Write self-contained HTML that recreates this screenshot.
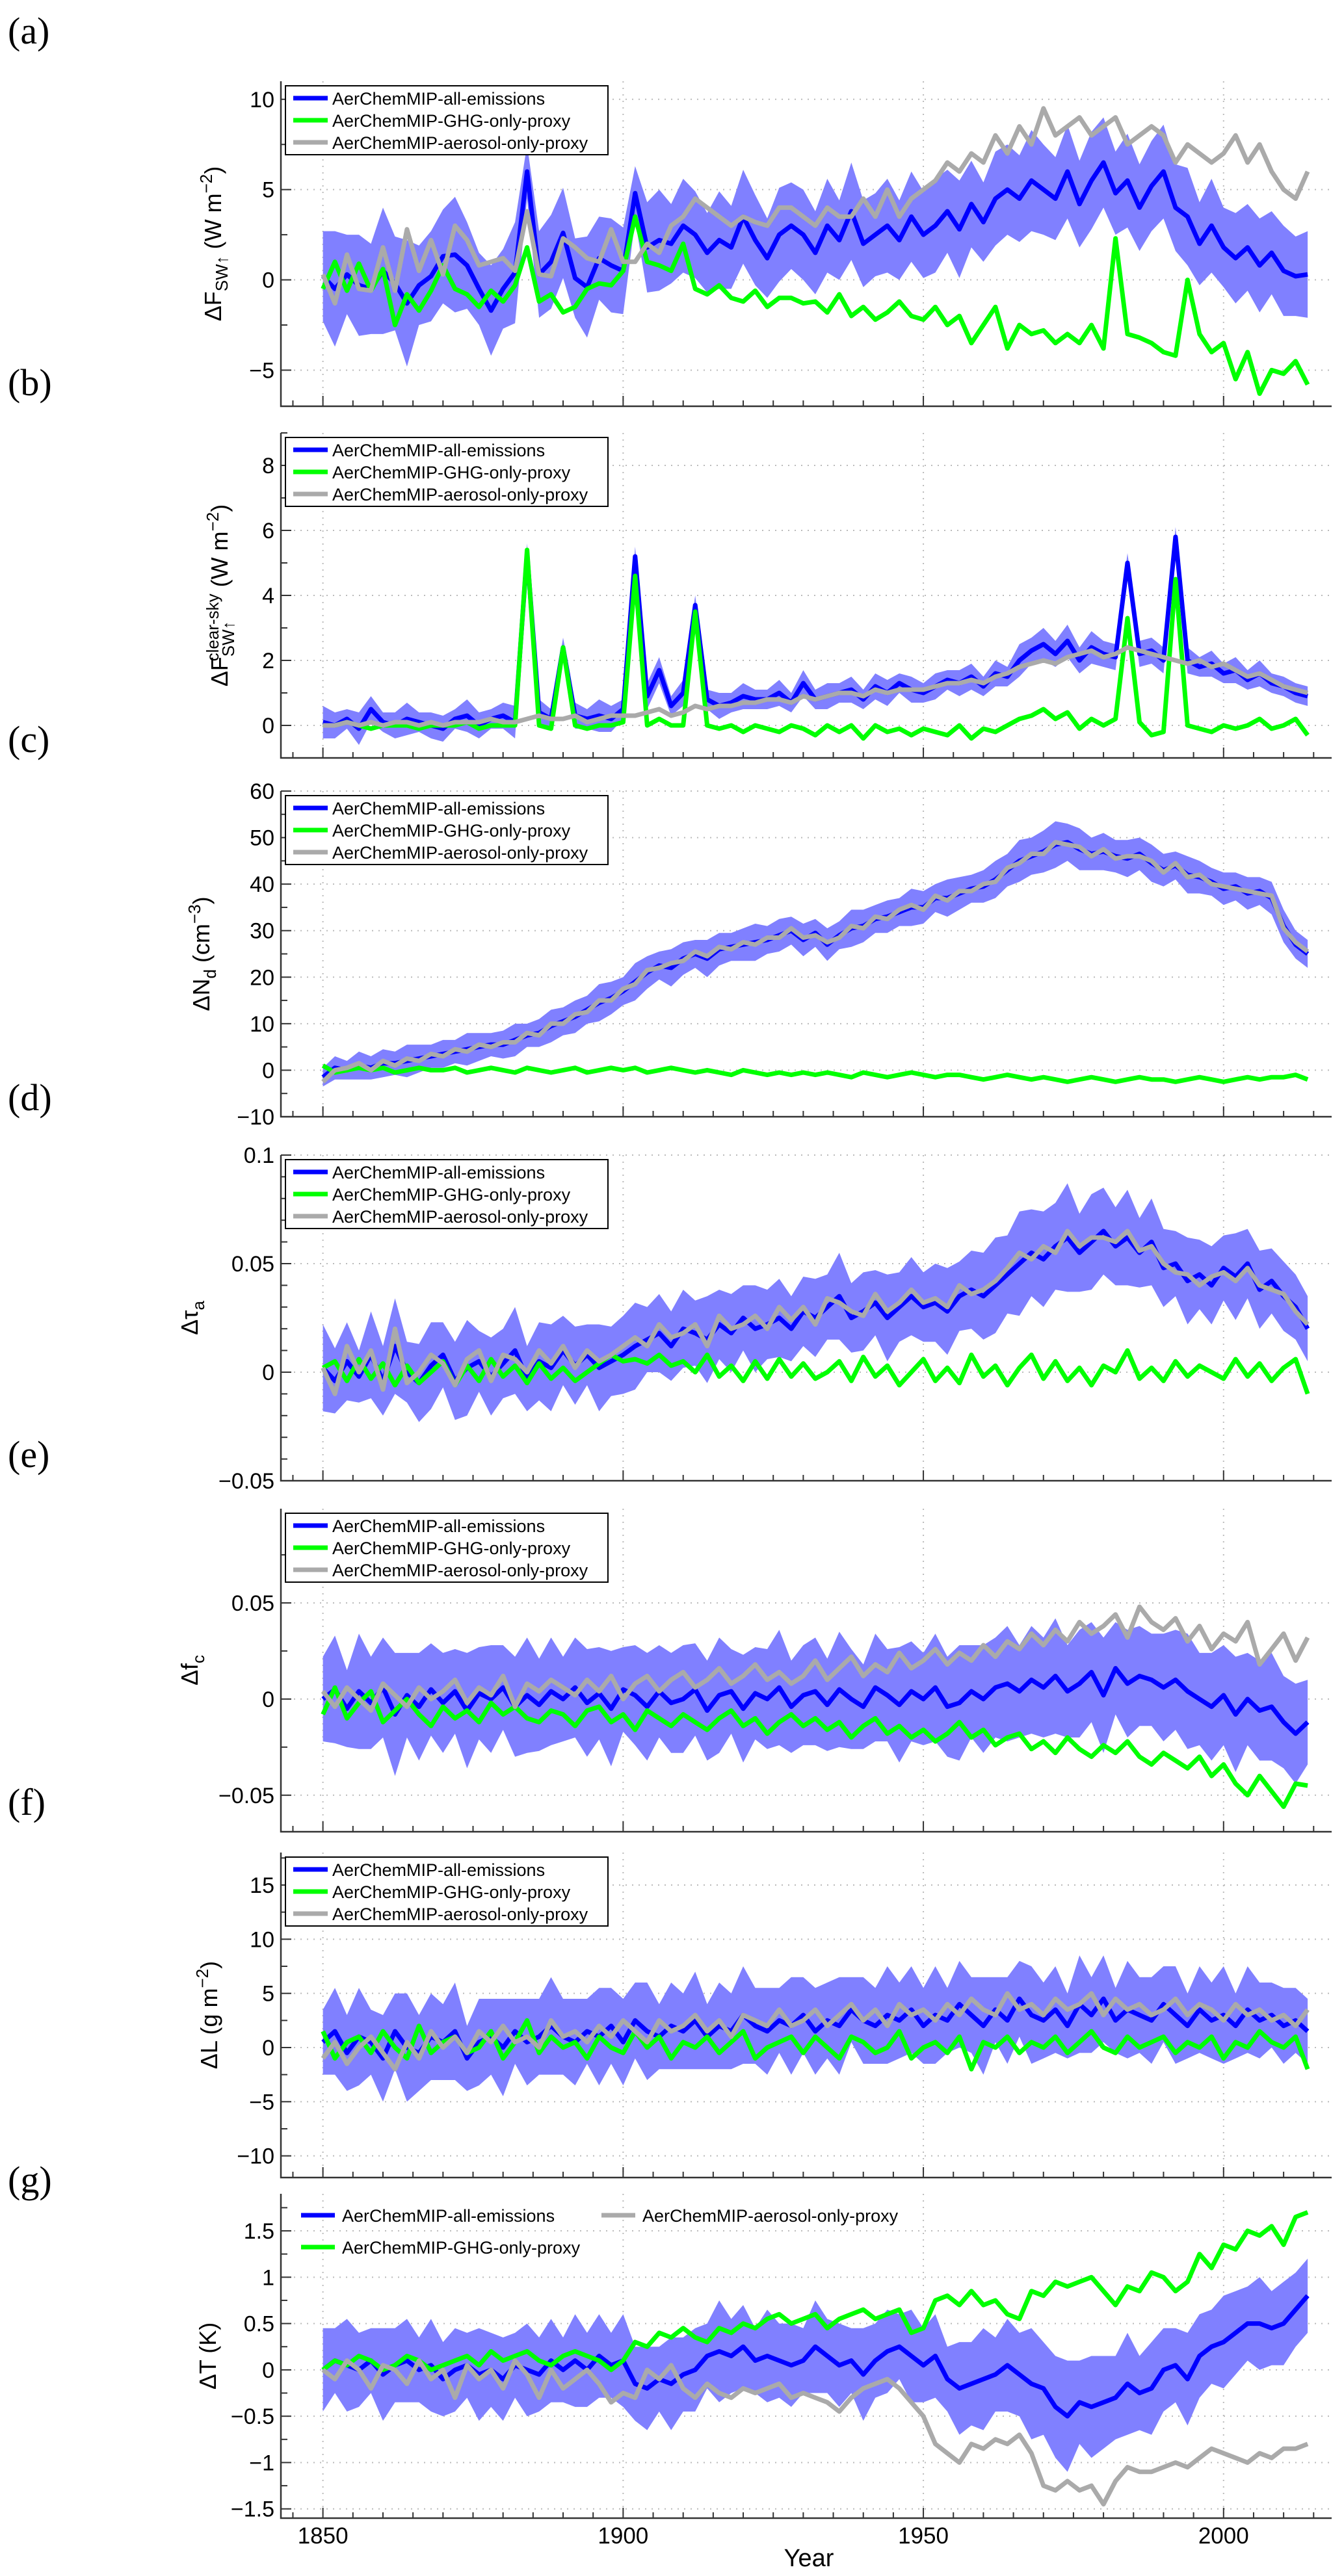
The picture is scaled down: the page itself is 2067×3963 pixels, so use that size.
<!DOCTYPE html>
<html><head><meta charset="utf-8"><style>
html,body{margin:0;padding:0;background:#fff;}
svg{display:block;}
text{font-family:"Liberation Sans",sans-serif;}
</style></head><body>
<svg id="fig" width="2067" height="3963" viewBox="0 0 2067 3963" xmlns="http://www.w3.org/2000/svg"></svg>
<script>
// ---------- DATA (years 1850..2014, every 2 years) ----------
const yearStart = 1850, yearStep = 2;
// (a) dF_SW up
const meanA=[0.2,-0.5,0.3,-0.3,-0.5,0.5,-0.2,-1.3,-0.3,0.2, 1.3,1.4,0.8,-0.5,-1.7,-0.5,0.4,6.0,0.3,1.0, 2.6,0.1,-0.4,1.2,0.8,0.5,4.8,1.8,2.2,2.0, 3.0,2.5,1.5,2.2,1.8,3.5,2.2,1.2,2.5,3.0, 2.5,1.5,3.0,2.2,3.8,2.0,2.5,3.0,2.2,3.5, 2.5,3.0,3.8,2.8,4.2,3.2,4.5,5.0,4.5,5.5, 5.0,4.5,6.0,4.2,5.5,6.5,4.8,5.5,4.0,5.2, 6.0,4.0,3.5,2.0,3.0,1.8,1.2,1.8,0.8,1.5, 0.5,0.2,0.3];
const spreadA=[2.5,3.2,2.2,2.8,2.5,3.5,2.6,3.5,2.2,2.5, 2.6,3.2,2.4,2.0,2.5,2.2,2.8,1.5,2.4,2.6, 2.5,2.2,2.8,2.3,2.6,2.4,1.5,2.5,2.8,2.2, 2.6,2.4,2.2,2.7,2.3,2.6,2.5,2.2,2.6,2.4, 2.5,2.3,2.6,2.2,2.7,2.4,2.3,2.6,2.2,2.5, 2.4,2.6,2.3,2.7,2.4,2.2,2.6,2.5,2.4,2.8, 2.5,2.3,2.6,2.4,2.7,2.5,2.3,2.6,2.4,2.5, 2.6,2.4,2.7,2.3,2.6,2.2,2.5,2.4,2.6,2.3, 2.5,2.2,2.4];
const ghgA=[-0.5,1.0,-0.6,0.9,-0.6,0.6,-2.5,-0.8,-1.7,-0.6, 0.8,-0.5,-0.8,-1.5,-0.6,-1.2,-0.3,1.8,-1.2,-0.8, -1.8,-1.5,-0.5,-0.2,-0.3,0.5,3.5,1.0,0.8,0.5, 2.0,-0.5,-0.8,-0.3,-1.0,-1.2,-0.6,-1.5,-1.0,-1.0, -1.3,-1.2,-1.8,-0.8,-2.0,-1.5,-2.2,-1.8,-1.2,-2.0, -2.2,-1.5,-2.5,-2.0,-3.5,-2.5,-1.5,-3.8,-2.5,-3.0, -2.8,-3.5,-3.0,-3.5,-2.5,-3.8,2.3,-3.0,-3.2,-3.5, -4.0,-4.2,0.0,-3.0,-4.0,-3.5,-5.5,-4.0,-6.3,-5.0, -5.2,-4.5,-5.8];
const aerA=[0.3,-1.3,1.4,-0.5,-0.6,1.8,-0.6,2.8,0.5,2.2, 0.3,3.0,2.2,0.8,1.0,1.2,0.5,3.8,0.3,0.2, 2.3,1.8,1.2,1.0,2.8,1.0,1.0,2.0,1.5,3.0, 3.5,4.5,4.0,3.5,3.0,3.5,3.2,3.0,4.0,4.0, 3.5,3.0,4.0,3.5,3.5,4.5,3.5,5.0,3.5,4.5, 5.0,5.5,6.5,6.0,7.0,6.5,8.0,7.0,8.5,7.5, 9.5,8.0,8.5,9.0,8.0,8.5,9.0,7.5,8.0,8.5, 8.0,6.5,7.5,7.0,6.5,7.0,8.0,6.5,7.5,6.0, 5.0,4.5,6.0];
// (b) clear-sky dF_SW up
const meanB=[0.1,0.0,0.2,-0.1,0.5,0.1,0.0,0.2,0.1,0.0, -0.1,0.2,0.3,0.0,0.2,0.3,0.1,5.3,0.4,0.2, 2.4,0.3,0.2,0.3,0.2,0.5,5.2,0.9,1.7,0.6, 1.0,3.7,0.8,0.6,0.7,0.9,0.8,0.8,1.0,0.7, 1.3,0.8,0.9,1.0,1.1,0.8,1.2,1.0,1.3,1.1, 1.0,1.2,1.4,1.3,1.5,1.2,1.6,1.5,2.0,2.3, 2.5,2.2,2.6,2.0,2.4,2.2,2.1,5.0,2.2,2.3, 2.0,5.8,2.0,1.8,1.9,1.6,1.7,1.4,1.6,1.3, 1.2,1.0,0.9];
const spreadB=[0.5,0.4,0.3,0.5,0.4,0.3,0.4,0.5,0.3,0.4, 0.4,0.3,0.5,0.4,0.3,0.4,0.5,0.3,0.4,0.3, 0.3,0.4,0.3,0.5,0.4,0.3,0.3,0.4,0.4,0.3, 0.4,0.3,0.3,0.4,0.3,0.4,0.3,0.3,0.4,0.3, 0.4,0.3,0.4,0.3,0.4,0.3,0.4,0.4,0.3,0.4, 0.3,0.4,0.3,0.4,0.4,0.3,0.4,0.3,0.5,0.4, 0.5,0.4,0.5,0.4,0.5,0.4,0.4,0.3,0.4,0.4, 0.4,0.3,0.4,0.3,0.4,0.3,0.4,0.3,0.4,0.3, 0.3,0.3,0.3];
const ghgB=[0.0,0.0,0.1,0.0,-0.1,0.0,0.0,0.0,-0.1,0.0, 0.0,0.0,0.1,-0.1,0.0,0.0,0.0,5.4,0.0,-0.1, 2.4,0.0,-0.1,0.0,0.0,0.1,4.6,0.0,0.2,0.0, 0.0,3.5,0.0,-0.1,0.0,-0.2,0.0,-0.1,-0.2,0.0, -0.1,-0.3,0.0,-0.2,0.0,-0.4,0.0,-0.2,-0.1,-0.3, -0.1,-0.2,-0.3,0.0,-0.4,-0.1,-0.2,0.0,0.2,0.3, 0.5,0.2,0.4,-0.1,0.2,0.0,0.2,3.3,0.1,-0.3, -0.2,4.5,0.0,-0.1,-0.2,0.0,-0.1,0.0,0.2,-0.1, 0.0,0.2,-0.3];
const aerB=[0.0,0.0,0.1,0.0,0.1,0.0,0.1,0.1,0.0,0.1, 0.0,0.1,0.1,0.1,0.2,0.1,0.1,0.2,0.3,0.2, 0.2,0.3,0.1,0.2,0.3,0.3,0.3,0.4,0.5,0.3, 0.4,0.6,0.5,0.6,0.6,0.7,0.7,0.8,0.8,0.7, 0.9,0.8,0.9,1.0,1.0,0.9,1.1,1.0,1.1,1.1, 1.1,1.2,1.3,1.3,1.4,1.3,1.5,1.6,1.8,1.9, 2.0,1.9,2.1,2.2,2.3,2.1,2.2,2.4,2.3,2.2, 2.1,2.0,1.9,2.0,1.8,1.9,1.7,1.5,1.6,1.4, 1.2,1.1,1.0];
// (c) dNd
const meanC=[-1.5,0.5,0.0,1.0,0.5,1.5,1.5,2.0,2.5,3.0, 3.5,4.0,4.5,5.0,5.5,5.5,6.5,7.5,8.0,9.5, 10.5,11.5,13.0,14.5,15.5,17.0,19.0,21.0,22.5,22.0, 24.0,25.0,24.0,26.0,26.5,27.0,27.5,28.0,29.0,30.0, 28.0,29.5,27.0,29.0,30.5,31.0,32.5,33.0,34.0,35.0, 35.0,37.0,37.0,38.0,39.0,39.5,41.0,43.0,45.0,46.0, 47.0,48.5,49.0,47.5,46.5,47.0,46.0,45.5,46.5,44.5, 43.0,44.0,42.0,41.5,40.5,39.0,39.5,38.0,38.5,37.0, 31.0,27.0,25.0];
const spreadC=[2.0,2.5,2.0,3.0,2.5,3.0,2.5,3.5,3.0,2.5, 3.0,2.5,3.5,3.0,2.5,3.0,3.5,2.5,3.0,3.5, 3.0,3.5,3.0,4.0,3.5,3.0,4.0,3.5,3.0,4.0, 3.5,3.0,4.0,3.5,3.0,3.5,4.0,3.0,3.5,3.0, 3.5,3.0,3.5,3.0,4.0,3.5,3.0,3.5,3.0,4.0, 3.5,3.0,4.0,3.5,3.0,3.5,4.0,3.5,4.5,4.0, 4.5,5.0,4.0,4.5,3.5,4.0,3.5,4.0,3.5,4.0, 3.5,3.0,4.0,3.5,3.0,3.5,3.0,3.5,3.0,3.5, 3.5,3.0,3.0];
const ghgC=[1.0,-0.5,0.0,0.5,0.0,0.5,-0.5,0.0,0.5,0.0, 0.0,0.5,-0.5,0.0,0.5,0.0,-0.5,0.5,0.0,-0.5, 0.0,0.5,-0.5,0.0,0.5,0.0,0.5,-0.5,0.0,0.5, 0.0,-0.5,0.0,-0.5,-1.0,0.0,-0.5,-1.0,-0.5,-1.0, -0.5,-1.0,-0.5,-1.0,-1.5,-0.5,-1.0,-1.5,-1.0,-0.5, -1.0,-1.5,-1.0,-1.0,-1.5,-2.0,-1.5,-1.0,-1.5,-2.0, -1.5,-2.0,-2.5,-2.0,-1.5,-2.0,-2.5,-2.0,-1.5,-2.0, -2.0,-2.5,-2.0,-1.5,-2.0,-2.5,-2.0,-1.5,-2.0,-1.5, -1.5,-1.0,-2.0];
const aerC=[-2.5,0.0,0.5,1.5,0.0,2.0,1.0,2.5,2.0,3.5, 3.0,4.5,4.0,5.5,5.0,6.0,6.0,8.0,7.5,10.0, 10.0,12.0,12.5,15.0,15.0,17.5,18.5,21.5,22.0,23.0, 23.5,25.5,24.5,26.5,26.0,27.5,27.0,28.5,28.5,30.5, 28.5,29.0,27.5,28.5,31.0,30.5,33.0,32.5,34.5,35.5, 34.5,37.5,36.5,38.5,38.5,40.0,40.5,43.5,44.5,46.5, 46.5,49.0,48.5,48.0,46.0,47.5,45.5,46.0,46.0,45.0, 42.5,44.5,41.5,42.0,40.0,39.5,39.0,38.5,38.0,37.5, 30.5,27.5,25.5];
// (d) d tau_a
const meanD=[0.002,-0.004,0.005,-0.002,0.008,-0.004,0.012,0.000,-0.005,0.003, 0.008,-0.004,0.002,0.005,-0.002,0.004,0.010,-0.003,0.005,0.002, 0.010,0.003,0.008,0.002,0.005,0.008,0.012,0.015,0.018,0.012, 0.020,0.018,0.015,0.022,0.018,0.025,0.020,0.022,0.025,0.020, 0.028,0.025,0.030,0.035,0.025,0.028,0.032,0.025,0.030,0.035, 0.030,0.032,0.028,0.035,0.038,0.035,0.040,0.045,0.050,0.055, 0.052,0.058,0.062,0.055,0.060,0.065,0.058,0.062,0.055,0.060, 0.048,0.050,0.042,0.045,0.040,0.048,0.044,0.050,0.038,0.042, 0.035,0.030,0.020];
const spreadD=[0.020,0.015,0.018,0.012,0.020,0.016,0.022,0.014,0.018,0.020, 0.015,0.018,0.022,0.014,0.018,0.016,0.020,0.015,0.018,0.020, 0.016,0.018,0.014,0.020,0.016,0.018,0.020,0.015,0.018,0.016, 0.018,0.015,0.020,0.016,0.018,0.015,0.020,0.016,0.018,0.015, 0.016,0.018,0.015,0.020,0.016,0.018,0.015,0.020,0.016,0.018, 0.016,0.018,0.020,0.016,0.018,0.020,0.022,0.018,0.024,0.020, 0.022,0.020,0.025,0.018,0.022,0.020,0.018,0.022,0.016,0.020, 0.018,0.015,0.020,0.016,0.018,0.015,0.020,0.016,0.018,0.015, 0.016,0.015,0.015];
const ghgD=[0.002,0.005,-0.004,0.006,-0.003,0.004,-0.006,0.003,-0.005,0.000, 0.005,-0.006,0.003,-0.004,0.006,-0.002,0.003,-0.005,0.004,-0.003, 0.002,-0.004,0.000,0.004,0.008,0.005,0.006,0.004,0.008,0.003, 0.005,0.000,0.008,-0.002,0.003,-0.004,0.005,-0.003,0.006,-0.002, 0.004,-0.003,0.000,0.005,-0.004,0.007,-0.002,0.003,-0.006,0.000, 0.006,-0.004,0.002,-0.005,0.008,-0.002,0.003,-0.006,0.002,0.008, -0.003,0.005,-0.004,0.002,-0.006,0.003,0.000,0.010,-0.003,0.002, -0.004,0.005,-0.002,0.003,0.000,-0.003,0.006,-0.002,0.004,-0.004, 0.002,0.006,-0.010];
const aerD=[0.002,-0.010,0.012,0.000,0.010,-0.008,0.020,-0.005,0.000,0.008, 0.004,-0.006,0.006,0.010,-0.004,0.008,0.006,0.000,0.010,0.004, 0.012,0.002,0.010,0.005,0.008,0.012,0.016,0.012,0.022,0.016, 0.018,0.022,0.012,0.026,0.020,0.022,0.026,0.020,0.030,0.024, 0.030,0.022,0.034,0.032,0.028,0.026,0.036,0.028,0.032,0.038, 0.032,0.034,0.030,0.040,0.036,0.038,0.042,0.048,0.055,0.052, 0.058,0.055,0.065,0.058,0.062,0.062,0.060,0.065,0.056,0.058, 0.050,0.046,0.045,0.040,0.044,0.046,0.042,0.048,0.040,0.038, 0.036,0.028,0.022];
// (e) d f_c
const meanE=[0.000,0.005,-0.005,0.004,-0.002,0.006,-0.008,0.002,-0.004,0.005, -0.002,0.004,-0.006,0.003,0.000,0.006,-0.004,0.002,-0.003,0.004, 0.000,0.006,-0.002,0.003,-0.005,0.005,0.002,-0.004,0.004,-0.002, 0.000,0.005,-0.006,0.002,0.004,-0.005,0.003,0.000,0.006,-0.004, 0.002,0.004,-0.003,0.005,0.000,-0.004,0.006,0.002,-0.003,0.004, 0.000,0.006,-0.004,-0.002,0.004,0.000,0.006,0.008,0.004,0.010, 0.006,0.012,0.004,0.008,0.014,0.002,0.016,0.008,0.012,0.010, 0.006,0.010,0.004,0.000,-0.004,0.002,-0.008,0.000,-0.006,-0.004, -0.012,-0.018,-0.012];
const spreadE=[0.022,0.028,0.020,0.030,0.024,0.026,0.032,0.022,0.028,0.024, 0.026,0.022,0.030,0.024,0.028,0.022,0.026,0.030,0.024,0.028, 0.022,0.026,0.028,0.024,0.030,0.022,0.026,0.028,0.024,0.026, 0.028,0.024,0.026,0.030,0.022,0.028,0.024,0.026,0.030,0.024, 0.026,0.028,0.024,0.030,0.026,0.022,0.028,0.024,0.030,0.026, 0.024,0.028,0.026,0.030,0.024,0.028,0.026,0.030,0.024,0.028, 0.026,0.030,0.024,0.028,0.026,0.030,0.024,0.028,0.026,0.024, 0.028,0.026,0.030,0.024,0.028,0.026,0.030,0.024,0.026,0.028, 0.024,0.026,0.022];
const ghgE=[-0.008,0.006,-0.010,-0.002,0.004,-0.012,-0.006,0.000,-0.008,-0.014, -0.004,-0.010,-0.006,-0.012,-0.002,-0.008,-0.004,-0.010,-0.012,-0.006, -0.008,-0.014,-0.006,-0.004,-0.012,-0.008,-0.016,-0.006,-0.010,-0.014, -0.008,-0.012,-0.016,-0.010,-0.006,-0.014,-0.010,-0.018,-0.012,-0.008, -0.014,-0.010,-0.016,-0.012,-0.020,-0.014,-0.010,-0.018,-0.014,-0.020, -0.016,-0.022,-0.018,-0.012,-0.020,-0.016,-0.024,-0.020,-0.018,-0.026, -0.022,-0.028,-0.020,-0.026,-0.030,-0.024,-0.028,-0.022,-0.030,-0.034, -0.028,-0.032,-0.036,-0.030,-0.040,-0.034,-0.044,-0.050,-0.040,-0.048, -0.056,-0.044,-0.045];
const aerE=[0.004,-0.004,0.006,0.000,-0.006,0.008,0.002,-0.004,0.006,0.000, 0.004,0.010,-0.002,0.006,0.002,0.012,-0.004,0.008,0.004,0.010, 0.006,0.002,0.010,0.004,0.012,0.000,0.008,0.012,0.004,0.010, 0.014,0.006,0.010,0.016,0.008,0.012,0.018,0.010,0.014,0.008, 0.012,0.020,0.010,0.016,0.022,0.012,0.018,0.014,0.024,0.016, 0.020,0.026,0.018,0.024,0.020,0.028,0.022,0.030,0.026,0.034, 0.028,0.036,0.030,0.040,0.034,0.038,0.044,0.032,0.048,0.040, 0.036,0.042,0.030,0.038,0.026,0.034,0.030,0.040,0.018,0.026, 0.034,0.020,0.032];
// (f) dL
const meanF=[0.5,1.5,-0.5,1.0,0.5,-1.0,1.5,0.0,-0.5,1.0, 0.5,1.5,-1.0,0.5,1.0,0.0,1.5,0.5,1.0,2.0, 1.0,0.5,1.5,1.0,2.0,0.5,2.5,1.5,1.0,2.0, 1.5,2.5,1.0,2.0,1.5,3.0,2.0,1.5,2.5,2.0, 3.0,1.5,2.5,2.0,3.5,2.5,2.0,3.0,2.5,3.5, 2.0,3.0,2.5,4.0,3.0,2.0,3.5,2.5,4.5,3.0, 2.5,3.5,2.0,4.0,3.0,4.5,2.5,3.5,3.0,2.5, 4.0,3.0,2.0,3.5,2.5,3.0,2.0,3.5,2.5,3.0, 2.0,2.5,1.5];
const spreadF=[3.0,4.0,3.5,4.5,3.0,4.0,3.5,5.0,3.5,4.0, 3.5,4.5,3.0,4.0,3.5,4.5,3.0,4.0,3.5,4.5, 3.5,4.0,3.0,4.5,3.5,4.0,3.5,4.5,3.0,4.0, 3.5,4.5,3.0,4.0,3.5,4.5,3.5,4.0,3.0,4.5, 3.5,4.0,3.5,4.5,3.0,4.0,3.5,4.5,3.5,4.0, 3.5,4.5,3.0,4.0,3.5,4.5,3.0,4.0,3.5,4.5, 3.5,4.0,3.0,4.5,3.5,4.0,3.0,4.5,3.5,4.0, 3.5,4.5,3.0,4.0,3.5,4.5,3.0,4.0,3.5,3.0, 3.5,3.0,3.0];
const ghgF=[1.5,-1.0,0.5,1.0,-0.5,1.5,0.0,-1.0,2.0,-0.5, 0.5,1.0,-0.5,0.0,1.5,-1.0,0.5,2.5,-0.5,1.0, 0.0,0.5,-1.0,1.0,0.0,-0.5,1.5,0.0,1.0,-1.0, 0.5,0.0,1.0,-0.5,0.5,1.5,-1.0,0.0,0.5,1.0, -0.5,1.0,0.0,-1.0,1.0,0.5,-0.5,0.0,1.5,-1.0, 0.0,0.5,-0.5,1.0,-2.0,0.5,0.0,1.0,-0.5,0.5, 0.0,1.0,-0.5,0.5,1.5,0.0,-0.5,1.0,0.0,0.5, 1.0,-0.5,0.5,0.0,1.0,-1.0,0.5,0.0,1.5,0.5, 0.0,1.0,-2.0];
const aerF=[-1.0,0.5,-1.5,0.0,1.0,-0.5,-2.0,0.5,-1.0,1.5, 0.0,1.0,-0.5,1.5,0.5,2.0,0.5,1.0,0.0,2.5, 1.0,1.5,0.5,2.0,1.0,2.5,1.5,0.5,2.5,1.5, 2.0,3.0,1.5,2.5,1.0,3.0,2.5,2.0,3.5,2.0, 2.5,3.5,2.0,3.0,4.0,2.5,3.5,2.0,4.0,3.0, 3.5,2.5,4.0,3.0,4.5,3.5,3.0,5.0,3.5,4.0, 3.0,4.5,3.5,4.0,5.0,3.0,4.5,3.5,4.0,3.0, 3.5,4.5,3.0,4.0,3.5,2.5,4.0,3.0,3.5,2.5, 3.0,2.0,3.5];
// (g) dT
const meanG=[0.0,0.1,0.05,0.0,0.1,-0.05,0.05,0.1,0.0,0.05, -0.1,0.0,0.05,-0.05,0.0,-0.1,0.05,0.0,-0.05,0.1, 0.0,0.1,0.0,0.15,0.05,0.1,-0.15,-0.2,-0.1,-0.15, -0.05,0.0,0.15,0.2,0.15,0.25,0.1,0.15,0.1,0.05, 0.1,0.25,0.15,0.05,0.1,-0.05,0.1,0.2,0.25,0.15, 0.05,0.15,-0.1,-0.2,-0.15,-0.1,-0.05,0.05,-0.05,-0.15, -0.2,-0.4,-0.5,-0.35,-0.4,-0.35,-0.3,-0.15,-0.25,-0.2, 0.0,0.05,-0.1,0.15,0.25,0.3,0.4,0.5,0.5,0.45, 0.5,0.65,0.8];
const spreadG=[0.45,0.35,0.5,0.4,0.35,0.5,0.4,0.45,0.35,0.5, 0.4,0.45,0.35,0.5,0.4,0.45,0.35,0.5,0.4,0.45, 0.35,0.5,0.4,0.45,0.35,0.5,0.4,0.45,0.35,0.5, 0.4,0.45,0.35,0.55,0.4,0.45,0.35,0.5,0.4,0.45, 0.35,0.5,0.4,0.45,0.35,0.5,0.4,0.45,0.35,0.5, 0.4,0.45,0.35,0.5,0.45,0.55,0.4,0.5,0.45,0.6, 0.5,0.55,0.6,0.45,0.55,0.5,0.45,0.55,0.4,0.5, 0.45,0.4,0.5,0.45,0.4,0.5,0.45,0.4,0.5,0.4, 0.45,0.4,0.4];
const ghgG=[0.0,0.1,0.05,0.15,0.1,0.0,0.05,0.15,0.1,0.0, 0.05,0.1,0.15,0.05,0.2,0.1,0.15,0.2,0.1,0.05, 0.15,0.2,0.15,0.1,0.0,0.1,0.3,0.25,0.4,0.35, 0.45,0.35,0.3,0.45,0.4,0.5,0.45,0.55,0.6,0.5, 0.55,0.6,0.45,0.55,0.6,0.65,0.55,0.6,0.65,0.4, 0.45,0.75,0.8,0.7,0.85,0.7,0.75,0.6,0.55,0.85, 0.8,0.95,0.9,0.95,1.0,0.85,0.7,0.9,0.85,1.05, 1.0,0.85,0.95,1.25,1.1,1.35,1.3,1.5,1.45,1.55, 1.35,1.65,1.7];
const aerG=[0.0,-0.1,0.1,0.0,-0.2,0.05,0.0,-0.15,0.1,-0.1, 0.0,-0.3,0.05,-0.1,0.0,-0.2,0.1,-0.05,-0.3,0.0, -0.2,-0.1,0.0,-0.15,-0.35,-0.25,-0.3,0.0,-0.1,0.05, -0.2,-0.3,-0.15,-0.25,-0.3,-0.2,-0.25,-0.2,-0.15,-0.3, -0.25,-0.3,-0.35,-0.45,-0.3,-0.2,-0.15,-0.1,-0.2,-0.35, -0.5,-0.8,-0.9,-1.0,-0.8,-0.85,-0.75,-0.8,-0.7,-0.9, -1.25,-1.3,-1.2,-1.3,-1.25,-1.45,-1.2,-1.05,-1.1,-1.1, -1.05,-1.0,-1.05,-0.95,-0.85,-0.9,-0.95,-1.0,-0.9,-0.95, -0.85,-0.85,-0.8];
// tick labels
const ticksA=[-5,0,5,10], ticksB=[0,2,4,6,8], ticksC=[-10,0,10,20,30,40,50,60], ticksD=[-0.05,0,0.05,0.1], ticksE=[-0.05,0,0.05], ticksF=[-10,-5,0,5,10,15], ticksG=[-1.5,-1,-0.5,0,0.5,1,1.5];
const xTicks=[1850,1900,1950,2000];
const legendNames=["AerChemMIP-all-emissions","AerChemMIP-GHG-only-proxy","AerChemMIP-aerosol-only-proxy"];

// ---------- LAYOUT ----------
const NS="http://www.w3.org/2000/svg";
const svg=document.getElementById('fig');
const X0=432, X1=2048, XMIN=1843, XMAX=2018;
function xs(yr){return X0+(yr-XMIN)/(XMAX-XMIN)*(X1-X0);}
function mk(tag,attrs,parent){const e=document.createElementNS(NS,tag);for(const k in attrs)e.setAttribute(k,attrs[k]);(parent||svg).appendChild(e);return e;}
function fmt(v){let s=String(Math.round(v*1000)/1000);return s.replace('-','\u2212');}

const panels=[
 {id:'a',top:125,bot:625,ymin:-7,ymax:11,ticks:ticksA,minor:2.5,mean:meanA,spread:spreadA,ghg:ghgA,aer:aerA,lab:47,ylx:340},
 {id:'b',top:666,bot:1166,ymin:-1,ymax:9,ticks:ticksB,minor:1,mean:meanB,spread:spreadB,ghg:ghgB,aer:aerB,lab:588,ylx:350},
 {id:'c',top:1217,bot:1718,ymin:-10,ymax:60,ticks:ticksC,minor:5,mean:meanC,spread:spreadC,ghg:ghgC,aer:aerC,lab:1137,ylx:322},
 {id:'d',top:1777,bot:2278,ymin:-0.05,ymax:0.1,ticks:ticksD,minor:0.01,mean:meanD,spread:spreadD,ghg:ghgD,aer:aerD,lab:1688,ylx:304},
 {id:'e',top:2321,bot:2818,ymin:-0.069,ymax:0.099,ticks:ticksE,minor:0.025,mean:meanE,spread:spreadE,ghg:ghgE,aer:aerE,lab:2237,ylx:304},
 {id:'f',top:2850,bot:3350,ymin:-12,ymax:18,ticks:ticksF,minor:2.5,mean:meanF,spread:spreadF,ghg:ghgF,aer:aerF,lab:2772,ylx:334},
 {id:'g',top:3375,bot:3874,ymin:-1.6,ymax:1.9,ticks:ticksG,minor:0.25,mean:meanG,spread:spreadG,ghg:ghgG,aer:aerG,lab:3353,ylx:332}
];
const ylabels={
 a:[['ΔF',0],['SW↑',1],[' (W m',0],['−2',-1],[')',0]],
 b:[['ΔF',0],['SW↑',1],['clear-sky',-1],[' (W m',0],['−2',-1],[')',0]],
 c:[['ΔN',0],['d',1],[' (cm',0],['−3',-1],[')',0]],
 d:[['Δτ',0],['a',1]],
 e:[['Δf',0],['c',1]],
 f:[['ΔL (g m',0],['−2',-1],[')',0]],
 g:[['ΔT (K)',0]]
};

panels.forEach(p=>{
  const g=mk('g',{});
  
  
  const ys=v=>p.bot-(v-p.ymin)/(p.ymax-p.ymin)*(p.bot-p.top);
  // panel label
  const pl=mk('text',{x:12,y:p.lab+20,'font-size':58,style:'font-family:"Liberation Serif",serif'},g);
  pl.textContent='('+p.id+')';
  
  
  // grid
  p.ticks.forEach(t=>{
    const y=ys(t);
    const gl=mk('line',{x1:X0,x2:X1,y1:y,y2:y,stroke:'#bbb','stroke-width':2,'stroke-dasharray':'2,8'},g);
    
    
  });
  xTicks.forEach(t=>{
    const x=xs(t);
    const gl=mk('line',{x1:x,x2:x,y1:p.top,y2:p.bot,stroke:'#bbb','stroke-width':2,'stroke-dasharray':'2,8'},g);
    
    
  });
  // band
  const n=p.mean.length;
  let up=[],lo=[];
  for(let i=0;i<n;i++){const yr=yearStart+i*yearStep;up.push(xs(yr).toFixed(1)+','+ys(p.mean[i]+p.spread[i]).toFixed(1));lo.push(xs(yr).toFixed(1)+','+ys(p.mean[i]-p.spread[i]).toFixed(1));}
  const band=mk('polygon',{points:up.concat(lo.reverse()).join(' '),fill:'#8080ff',stroke:'none'},g);
  
  
  function line(arr,col,name){
    const pts=arr.map((v,i)=>xs(yearStart+i*yearStep).toFixed(1)+','+ys(v).toFixed(1)).join(' ');
    const l=mk('polyline',{points:pts,fill:'none',stroke:col,'stroke-width':7,'stroke-linejoin':'round'},g);
    
    
  }
  line(p.mean,'#0000ff','all-emissions-line-'+p.id);
  line(p.ghg,'#00ff00','ghg-only-line-'+p.id);
  line(p.aer,'#aaaaaa','aerosol-only-line-'+p.id);
  // axes
  const ax=mk('path',{d:`M${X0},${p.top} V${p.bot} H${X1}`,fill:'none',stroke:'#333','stroke-width':2.5},g);
  
  
  // y ticks
  for(let v=Math.ceil(p.ymin/p.minor-1e-9)*p.minor; v<=p.ymax+1e-9; v+=p.minor){
    const y=ys(v);
    const isMaj=p.ticks.some(t=>Math.abs(t-v)<1e-9);
    mk('line',{x1:X0,x2:X0+(isMaj?16:10),y1:y,y2:y,stroke:'#333','stroke-width':2},g);
  }
  p.ticks.forEach(t=>{
    const tl=mk('text',{x:422,y:ys(t)+12,'font-size':34,'text-anchor':'end'},g);
    tl.textContent=fmt(t);
    
    
  });
  // x ticks
  for(let yr=1845;yr<=2015;yr+=5){
    const x=xs(yr);const maj=yr%50===0;
    mk('line',{x1:x,x2:x,y1:p.bot,y2:p.bot-(maj?16:9),stroke:'#333','stroke-width':2},g);
  }
  // y label
  const yl=mk('text',{transform:`translate(${p.ylx},${(p.top+p.bot)/2}) rotate(-90)`,'text-anchor':'middle','font-size':36},g);
  
  
  let prev=0;
  ylabels[p.id].forEach(([s,sh],k)=>{
    const ts=mk('tspan',{},yl);
    let dy=0;
    if(sh===1){dy=10-prev;ts.setAttribute('font-size',26);}
    else if(sh===-1){dy=-14-prev;ts.setAttribute('font-size',26);}
    else {dy=-prev;}
    if(p.id==='b'&&s==='clear-sky'){ts.setAttribute('dx',-62);}
    ts.setAttribute('dy',dy);
    prev=(sh===1?10:sh===-1?-14:0);
    ts.textContent=s;
  });
  // legend
  const cols=['#0000ff','#00ff00','#aaaaaa'];
  const lg=mk('g',{},g);
  
  
  if(p.id!=='g'){
    mk('rect',{x:439,y:p.top+7,width:496,height:106,fill:'#fff',stroke:'#000','stroke-width':2},lg);
    legendNames.forEach((nm,k)=>{
      const y=p.top+7+19+k*34;
      const e=mk('g',{},lg);
      
      
      mk('line',{x1:451,x2:504,y1:y,y2:y,stroke:cols[k],'stroke-width':7},e);
      const t=mk('text',{x:511,y:y+10,'font-size':27},e);t.textContent=nm;
    });
  } else {
    const pos=[[463,3408],[463,3457],[925,3408]];
    legendNames.forEach((nm,k)=>{
      const [x,y]=pos[k];
      const e=mk('g',{},lg);
      
      
      mk('line',{x1:x,x2:x+52,y1:y,y2:y,stroke:cols[k],'stroke-width':7},e);
      const t=mk('text',{x:x+63,y:y+10,'font-size':27},e);t.textContent=nm;
    });
    xTicks.forEach(t=>{
      const tl=mk('text',{x:xs(t),y:3913,'font-size':35,'text-anchor':'middle'},g);
      tl.textContent=t;
      
      
    });
    const xl=mk('text',{x:1244,y:3948,'font-size':38,'text-anchor':'middle'},g);
    xl.textContent='Year';
    
    
  }
});
</script>
</body></html>
